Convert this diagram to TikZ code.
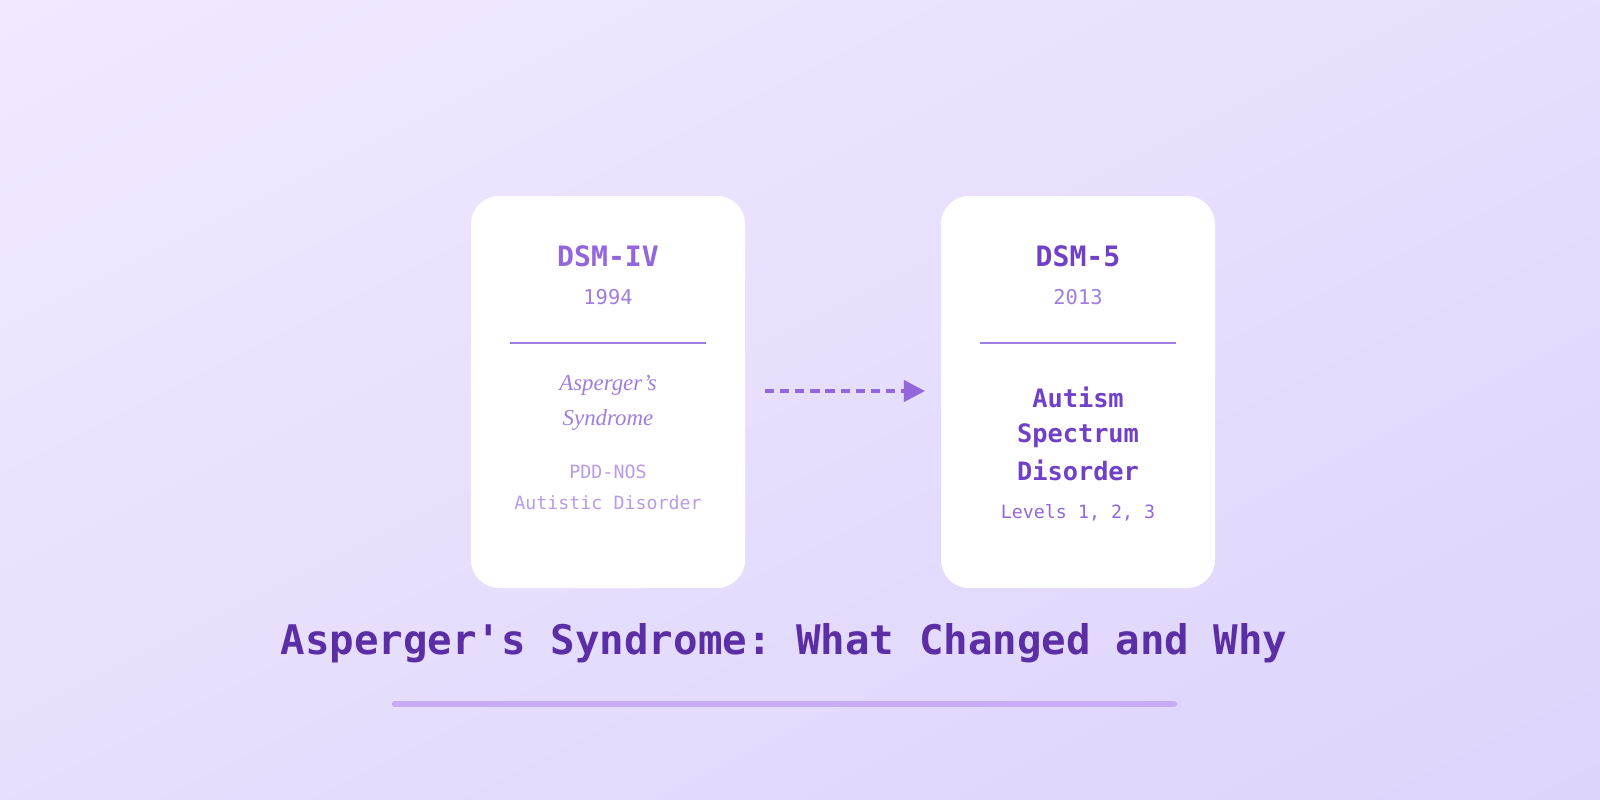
\documentclass[tikz,border=0pt]{standalone}
\usepackage{fontspec}
\setmainfont{Liberation Serif}
\setmonofont{DejaVu Sans Mono}
\usetikzlibrary{arrows.meta,shadings}
\definecolor{bgA}{HTML}{F2E9FF}
\definecolor{bgB}{HTML}{DCD4FB}
\definecolor{titleC}{HTML}{5B2EA6}
\definecolor{headC}{HTML}{9466DE}
\definecolor{headR}{HTML}{7040C8}
\definecolor{subC}{HTML}{A07DE0}
\definecolor{softC}{HTML}{B99BE8}
\definecolor{barC}{HTML}{C6ACF2}
\tikzset{
  card/.style={fill=white, rounded corners=8pt},
  mono/.style={font=\ttfamily\fontsize{#1}{#1}\selectfont},
  monob/.style={font=\ttfamily\bfseries\fontsize{#1}{#1}\selectfont},
}
\begin{document}
\begin{tikzpicture}[x=0.01cm,y=-0.01cm]
  \useasboundingbox (0,0) rectangle (1600,800);
  \begin{scope}
    \clip (0,0) rectangle (1600,800);
    \shade[upper left=bgA, upper right=bgA!50!bgB, lower left=bgA!50!bgB, lower right=bgB] (0,0) rectangle (1600,800);
  \end{scope}
  % cards
  \fill[card] (471,196) rectangle (745,588);
  \fill[card] (941,196) rectangle (1215,588);
  \node[monob=8pt, text=headC] (dsmiv) at (608,256) {DSM-IV};
  \node[mono=5.8pt, text=subC] (y94) at (608,297) {1994};
  \draw[subC, line width=0.6pt] (510,343) -- (706,343);
  \node[font=\itshape\fontsize{6.5pt}{6.5pt}\selectfont, text=subC] (asp) at (608,385) {Asperger's};
  \node[font=\itshape\fontsize{6.5pt}{6.5pt}\selectfont, text=subC] (syn) at (608,420) {Syndrome};
  \node[mono=5.2pt, text=softC] (pdd) at (608,472) {PDD-NOS};
  \node[mono=5.2pt, text=softC] (aut) at (608,503) {Autistic Disorder};
  \node[monob=8pt, text=headR] (dsm5) at (1078,256) {DSM-5};
  \node[mono=5.8pt, text=subC] (y13) at (1078,297) {2013};
  \draw[subC, line width=0.6pt] (980,343) -- (1176,343);
  \node[monob=7.2pt, text=headR, align=center] (asd) at (1078,434)
    {Autism\\[2.6pt]Spectrum\\[2.6pt]Disorder};
  \node[mono=5.2pt, text=headC] (lev) at (1078,513) {Levels 1, 2, 3};
  % arrow
  \coordinate (from) at (765,391);
  \coordinate (to) at (925,391);
  \draw[headC, line width=1.1pt, dash pattern=on 2.6pt off 1.7pt, -{Triangle[length=6pt,width=6pt]}] (from) -- (to);
  % title
  \node[monob=11.6pt, text=titleC] (title) at (784,643) {Asperger's Syndrome: What Changed and Why};
  \draw[barC, line width=1.8pt, line cap=round] (395,704) -- (1174,704);
\end{tikzpicture}
\end{document}
